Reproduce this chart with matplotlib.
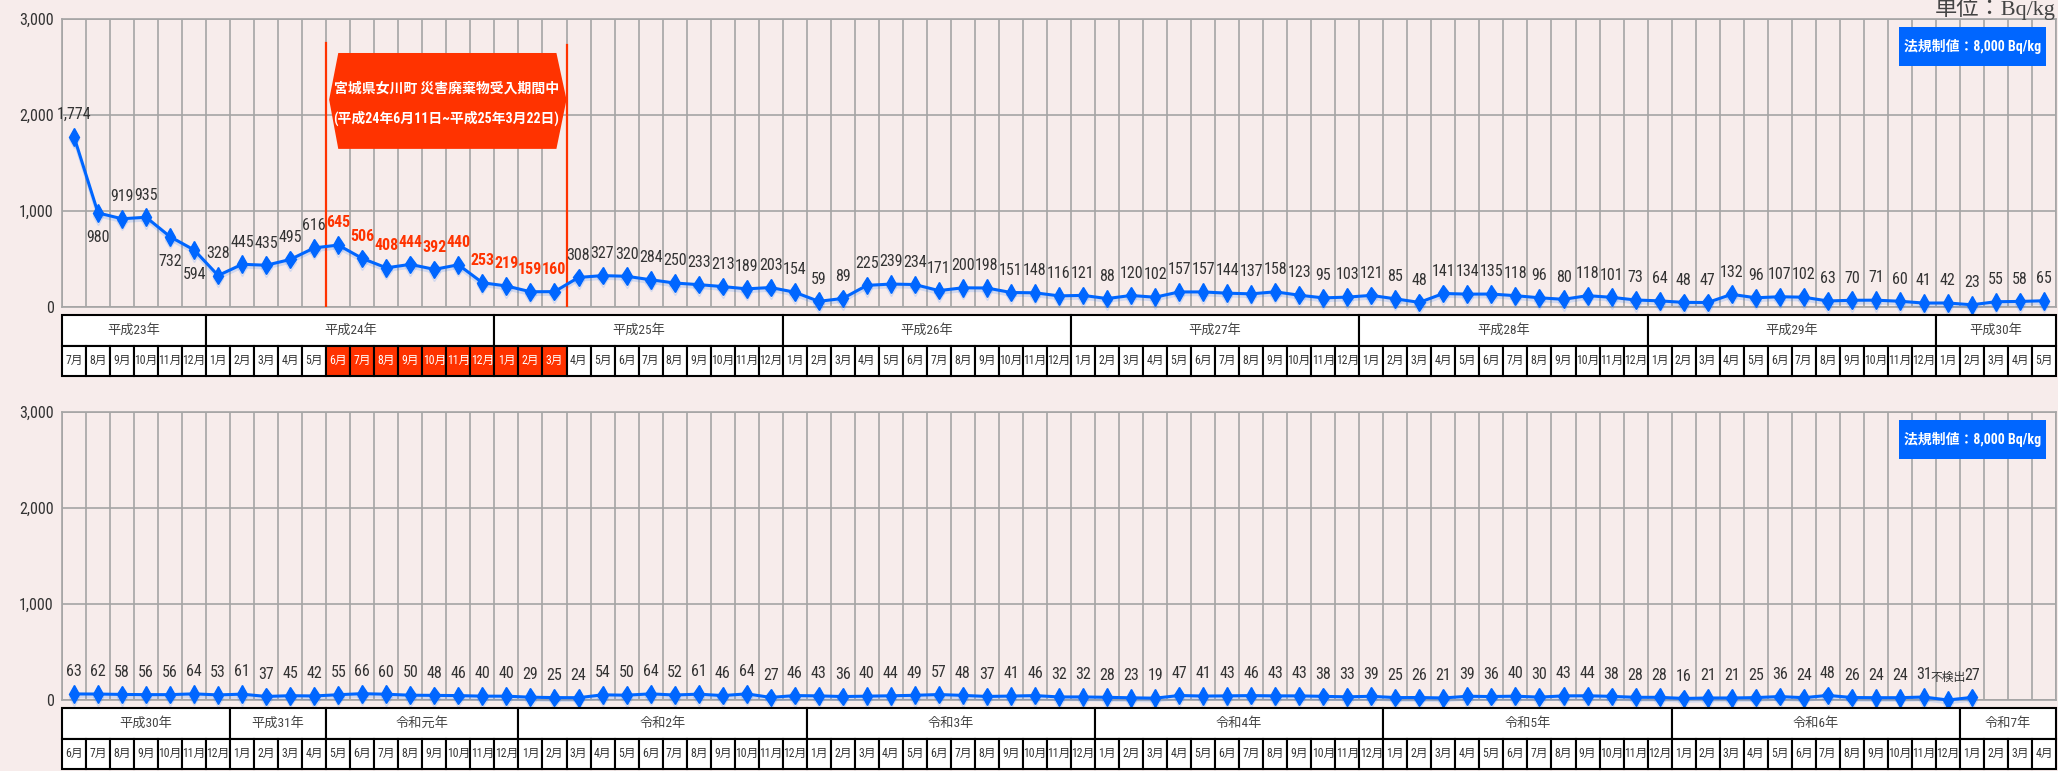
import numpy as np
import matplotlib
matplotlib.use('Agg')
import matplotlib.pyplot as plt
import matplotlib.patheffects as pe
import matplotlib.transforms as mtransforms
from matplotlib import font_manager
from matplotlib.patches import Rectangle, Polygon
from matplotlib.ticker import FuncFormatter

# 月別測定値 (Bq/kg)  平成23年7月〜平成30年5月
top_values = [1774, 980, 919, 935, 732, 594,
              328, 445, 435, 495, 616, 645, 506, 408, 444, 392, 440, 253,
              219, 159, 160, 308, 327, 320, 284, 250, 233, 213, 189, 203,
              154, 59, 89, 225, 239, 234, 171, 200, 198, 151, 148, 116,
              121, 88, 120, 102, 157, 157, 144, 137, 158, 123, 95, 103,
              121, 85, 48, 141, 134, 135, 118, 96, 80, 118, 101, 73,
              64, 48, 47, 132, 96, 107, 102, 63, 70, 71, 60, 41,
              42, 23, 55, 58, 65]
top_years = ['平成23年', '平成24年', '平成25年', '平成26年', '平成27年',
             '平成28年', '平成29年', '平成30年']
top_year_months = [6, 12, 12, 12, 12, 12, 12, 5]
top_first_month = 7

# 平成30年6月〜令和7年4月 (None = 不検出)
bottom_values = [63, 62, 58, 56, 56, 64, 53,
                 61, 37, 45, 42,
                 55, 66, 60, 50, 48, 46, 40, 40,
                 29, 25, 24, 54, 50, 64, 52, 61, 46, 64, 27, 46,
                 43, 36, 40, 44, 49, 57, 48, 37, 41, 46, 32, 32,
                 28, 23, 19, 47, 41, 43, 46, 43, 43, 38, 33, 39,
                 25, 26, 21, 39, 36, 40, 30, 43, 44, 38, 28, 28,
                 16, 21, 21, 25, 36, 24, 48, 26, 24, 24, 31, None,
                 27]
bottom_years = ['平成30年', '平成31年', '令和元年', '令和2年', '令和3年',
                '令和4年', '令和5年', '令和6年', '令和7年']
bottom_year_months = [7, 4, 8, 12, 12, 12, 12, 12, 4]
bottom_first_month = 6

# 女川町災害廃棄物受入期間 (平成24年6月〜平成25年3月) の月番号
period_first, period_last = 11, 20
below_labels = [1, 4, 5]  # ラベルを点の下に置く月
nd_label = '不検出'

BG = '#f7eceb'
GRID = '#a5a5a5'
BLUE = '#0066ff'
RED = '#ff3300'
TXT = '#333333'

# look for a narrow / condensed face for the numbers
fonts = font_manager.fontManager.ttflist
num_name, num_stretch, narrow = 'Liberation Sans', 'normal', False
for want in ['Liberation Sans Narrow', 'Roboto Condensed', 'Open Sans Condensed',
             'Noto Sans Condensed', 'DejaVu Sans Condensed']:
    if any(f.name == want for f in fonts):
        num_name, narrow = want, True
        break
if not narrow:
    for fam in ['Roboto', 'Noto Sans', 'Open Sans', 'DejaVu Sans', 'Inter']:
        hit = [f for f in fonts if f.name == fam and f.stretch in
               ('condensed', 'semi-condensed', 'extra-condensed', 75, 87.5, 62.5)]
        if hit:
            num_name, num_stretch, narrow = fam, hit[0].stretch, True
            break

NUM = [num_name, 'Noto Sans CJK JP', 'DejaVu Sans']
CJK = ['Noto Sans CJK JP', 'DejaVu Sans']
label_size = 11.5 if narrow else 10
month_size = 8.5 if narrow else 7.5
year_size = 9.5 if narrow else 8.5

W, H = 2058, 771


def box(left, top, right, bottom):
    return [left / W, 1 - bottom / H, (right - left) / W, (bottom - top) / H]


fig = plt.figure(figsize=(W / 100, H / 100), dpi=100, facecolor=BG)


def draw_panel(top, values, years, spans, first_month, highlight=None):
    n = sum(spans)
    ax = fig.add_axes(box(62, top, 2056, top + 288))
    ax.set_facecolor(BG)
    ax.set_xlim(-0.5, n - 0.5)
    ax.set_ylim(0, 3000)
    ax.set_xticks(np.arange(-0.5, n, 1))
    ax.set_yticks([0, 1000, 2000, 3000])
    ax.yaxis.set_major_formatter(FuncFormatter(lambda v, p: f'{int(v):,}'))
    ax.tick_params(axis='x', length=0, labelbottom=False)
    ax.tick_params(axis='y', length=0, pad=6, labelsize=11.5, labelcolor=TXT)
    for lab in ax.get_yticklabels():
        lab.set_family(NUM)
        lab.set_stretch(num_stretch)
    ax.grid(True, color=GRID, lw=1.2)
    ax.set_axisbelow(True)
    for s in ax.spines.values():
        s.set_color(GRID)
        s.set_linewidth(1.2)

    x = np.arange(len(values))
    y = [0 if v is None else v for v in values]
    ax.plot(x, y, color=BLUE, lw=2.2, marker='d', ms=9, mec=BLUE, clip_on=False, zorder=5,
            path_effects=[pe.SimpleLineShadow(offset=(0, -2), shadow_color=BLUE, alpha=0.15),
                          pe.Normal()])

    for i, v in enumerate(values):
        red = highlight is not None and highlight[0] <= i <= highlight[1]
        off = -18 if (highlight is not None and i in below_labels) else 16
        if v is None:
            ax.annotate(nd_label, (i, y[i]), xytext=(0, off), textcoords='offset points',
                        ha='center', va='center', fontsize=8.5, color=TXT, family=CJK, zorder=6)
        else:
            ax.annotate(f'{v:,}', (i, y[i]), xytext=(0, off), textcoords='offset points',
                        ha='center', va='center', fontsize=label_size,
                        color=RED if red else TXT, family=NUM, fontstretch=num_stretch,
                        fontweight='bold' if red else 'normal', zorder=6)

    # 年・月の表
    tb = fig.add_axes(box(62, top + 296, 2056, top + 357))
    tb.set_xlim(-0.5, n - 0.5)
    tb.set_ylim(0, 2)
    tb.axis('off')
    pos = -0.5
    for name, k in zip(years, spans):
        tb.add_patch(Rectangle((pos, 1), k, 1, fc='white', ec='black', lw=1.5, clip_on=False))
        tb.text(pos + k / 2, 1.5, name, ha='center', va='center', fontsize=year_size,
                color='#444444', family=NUM, fontstretch=num_stretch)
        pos += k
    months = []
    m = first_month
    for k in spans:
        for _ in range(k):
            months.append(m)
            m = m % 12 + 1
    for i, mo in enumerate(months):
        hl = highlight is not None and highlight[0] <= i <= highlight[1]
        tb.add_patch(Rectangle((i - 0.5, 0), 1, 1, fc=RED if hl else 'white', ec='black',
                               lw=1.5, clip_on=False))
        tb.text(i, 0.5, f'{mo}月', ha='center', va='center', fontsize=month_size,
                color='white' if hl else TXT, family=NUM, fontstretch=num_stretch)

    # 法規制値ボックス
    fig.add_artist(Rectangle((1899 / W, 1 - (top + 47) / H), 147 / W, 39 / H,
                             transform=fig.transFigure, fc=BLUE, ec='none', zorder=10))
    fig.text(1972.5 / W, 1 - (top + 27.5) / H, '法規制値：8,000 Bq/kg', color='white',
             fontsize=10, family=NUM, fontstretch=num_stretch, fontweight='bold',
             ha='center', va='center', zorder=11)
    return ax


ax1 = draw_panel(19, top_values, top_years, top_year_months, top_first_month,
                 highlight=(period_first, period_last))
draw_panel(412, bottom_values, bottom_years, bottom_year_months, bottom_first_month)

# 受入期間の表示
trans = mtransforms.blended_transform_factory(ax1.transData, ax1.transAxes)
x0, x1 = period_first - 0.5, period_last + 0.5
ax1.plot([x0, x0], [0, 0.917], transform=trans, color=RED, lw=1.6, zorder=4)
ax1.plot([x1, x1], [0, 0.91], transform=trans, color=RED, lw=1.6, zorder=4)
ax1.add_patch(Polygon([(x0 + 0.12, 0.72), (x0 + 0.5, 0.882), (x1 - 0.42, 0.882),
                       (x1, 0.72), (x1 - 0.42, 0.549), (x0 + 0.5, 0.549)],
                      closed=True, transform=trans, fc=RED, ec='none', zorder=7))
mid = (x0 + x1) / 2
ax1.text(mid, 0.76, '宮城県女川町 災害廃棄物受入期間中', transform=trans, ha='center',
         va='center', color='white', fontsize=10, fontweight='bold', family=CJK, zorder=8)
ax1.text(mid, 0.656, '(平成24年6月11日~平成25年3月22日)', transform=trans, ha='center',
         va='center', color='white', fontsize=10, fontweight='bold', family=NUM,
         fontstretch=num_stretch, zorder=8)

fig.text(2056 / W, 1 - 15 / H, '単位：Bq/kg', ha='right', va='baseline', fontsize=16,
         family=['Liberation Serif', 'Noto Sans CJK JP'], color='#444444', zorder=12)

fig.savefig('out.png', dpi=100, facecolor=BG)
